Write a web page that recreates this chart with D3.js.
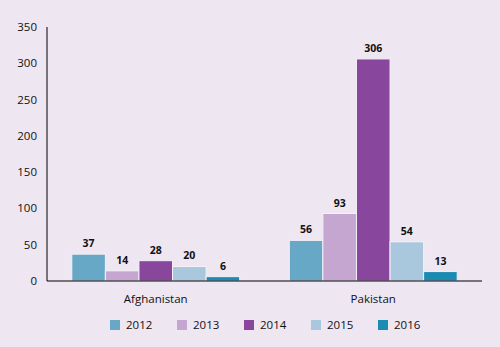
<!DOCTYPE html>
<html><head><meta charset="utf-8">
<script src="https://cdn.jsdelivr.net/npm/d3@7/dist/d3.min.js"></script>
<style>
html,body{margin:0;padding:0;background:#EEE6F1;}
svg{display:block;font-family:"Open Sans",sans-serif;}
</style></head>
<body><svg id="c" width="500" height="347"></svg>
<script>
const categories = ["Afghanistan", "Pakistan"];
const years = ["2012", "2013", "2014", "2015", "2016"];
const values2012 = [37, 56];
const values2013 = [14, 93];
const values2014 = [28, 306];
const values2015 = [20, 54];
const values2016 = [6, 13];
const yTicks = [0, 50, 100, 150, 200, 250, 300, 350];
const colors = ["#67A8C6", "#C4A6D1", "#88479C", "#A9C8DD", "#1A8BB3"];

const series = [values2012, values2013, values2014, values2015, values2016];
const svg = d3.select("#c");
const plotL = 47, plotR = 482, plotT = 27, plotB = 281;

const x0 = d3.scaleBand().domain(categories).range([plotL, plotR]).paddingInner(0.228).paddingOuter(0.114);
const x1 = d3.scaleBand().domain(years).range([0, x0.bandwidth()]);
const y = d3.scaleLinear().domain([0, 350]).range([plotB, plotT]);

// y axis
svg.append("line").attr("x1", plotL).attr("x2", plotL).attr("y1", plotT).attr("y2", plotB)
  .attr("stroke", "#000").attr("stroke-width", 1);
svg.selectAll(".yt").data(yTicks).enter().append("text")
  .attr("x", 37).attr("y", d => y(d)).attr("dy", "0.35em")
  .attr("text-anchor", "end").attr("font-size", 11.5).attr("fill", "#111").text(d => d);

// bars
categories.forEach((c, ci) => {
  years.forEach((yr, yi) => {
    const v = series[yi][ci];
    const bx = x0(c) + x1(yr);
    svg.append("rect").attr("x", bx).attr("y", y(v)).attr("width", x1.bandwidth())
      .attr("height", y(0) - y(v)).attr("fill", colors[yi])
      .attr("stroke", "#F6F0F8").attr("stroke-width", 1);
    svg.append("text").attr("x", bx + x1.bandwidth() / 2).attr("y", y(v) - 7)
      .attr("text-anchor", "middle").attr("font-size", 10.5).attr("font-weight", "bold")
      .attr("fill", "#111").text(v);
  });
});

// baseline
svg.append("line").attr("x1", plotL).attr("x2", plotR).attr("y1", plotB).attr("y2", plotB)
  .attr("stroke", "#000").attr("stroke-width", 1.2);

// category labels
svg.selectAll(".cl").data(categories).enter().append("text")
  .attr("x", d => x0(d) + x0.bandwidth() / 2).attr("y", 303)
  .attr("text-anchor", "middle").attr("font-size", 11.5).attr("fill", "#111").text(d => d);

// legend
const lx = d3.scalePoint().domain(years).range([110, 378]);
years.forEach((yr, i) => {
  svg.append("rect").attr("x", lx(yr)).attr("y", 320).attr("width", 10).attr("height", 10)
    .attr("fill", colors[i]);
  svg.append("text").attr("x", lx(yr) + 16).attr("y", 325).attr("dy", "0.35em")
    .attr("font-size", 11.5).attr("fill", "#111").text(yr);
});
</script></body></html>
